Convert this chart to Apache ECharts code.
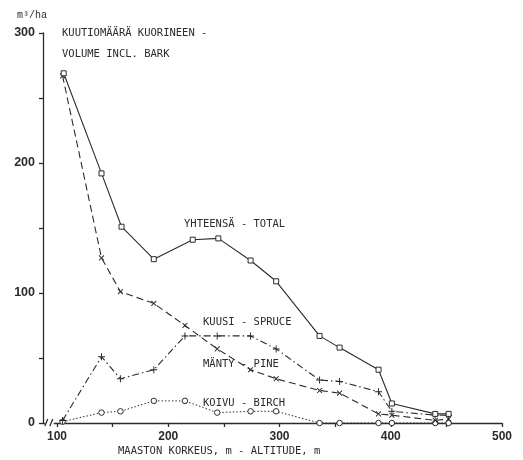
<!DOCTYPE html>
<html>
<head>
<meta charset="utf-8">
<script src="https://cdn.jsdelivr.net/npm/echarts@6/dist/echarts.min.js"></script>
<style>
  html, body { margin: 0; padding: 0; background: #fff; }
  #chart { width: 523px; height: 460px; }
</style>
</head>
<body>
<div id="chart"></div>
<script>
// Altitude (m) of each sample plot; the total curve was plotted slightly off at two plots
const altitudes      = [105, 140, 157, 187, 215, 244, 274, 297, 336, 354, 389, 401, 440, 452];
const totalAltitudes = [106, 140, 158, 187, 222, 245, 274, 297, 336, 354, 389, 401, 440, 452];

// Volume including bark, m3/ha
const totalVolume  = [269, 192, 151, 126, 141, 142, 125, 109, 67, 58, 41, 15, 7, 7];
const spruceVolume = [267, 127, 101, 92, 75, 57, 41, 34, 25, 23, 7, 6, 2, 3];
const pineVolume   = [2, 51, 34, 41, 67, 67, 67, 57, 33, 32, 24, 9, 6, 6];
const birchVolume  = [1, 8, 9, 17, 17, 8, 9, 9, 0, 0, 0, 0, 0, 0];

// Axis ticks and labels
const xTicks  = [100, 150, 200, 250, 300, 350, 400, 450, 500];
const xLabels = [100, 200, 300, 400, 500];
const yLabels = [0, 100, 200, 300];

const ink = '#2b2b2b';
const mono = 'DejaVu Sans Mono';
const plusPath = 'path://M4.3,0H5.7V4.3H10V5.7H5.7V10H4.3V5.7H0V4.3H4.3Z';

const pairs = (xs, ys) => xs.map((x, i) => [x, ys[i]]);

const chart = echarts.init(document.getElementById('chart'), null, { renderer: 'canvas' });

// Text placed by its left edge and vertical centre
const labelText = (text, x, y) => ({
  type: 'text', left: x, top: y - 5,
  style: { text, fill: ink, font: '10.5px "' + mono + '"' }
});

chart.setOption({
  animation: false,
  backgroundColor: '#fff',
  grid: { left: 43, right: 21, top: 33, bottom: 37 },
  xAxis: {
    type: 'value',
    min: 87.4,
    max: 500,
    axisLine: { lineStyle: { color: ink, width: 1.3 } },
    axisTick: { customValues: xTicks, length: 4, lineStyle: { color: ink, width: 1.3 } },
    axisLabel: {
      customValues: xLabels, margin: 8, color: ink,
      fontFamily: 'Liberation Sans', fontWeight: 'bold', fontSize: 12
    },
    splitLine: { show: false }
  },
  yAxis: {
    type: 'value',
    min: 0,
    max: 300,
    interval: 50,
    axisLine: { show: true, lineStyle: { color: ink, width: 1.3 } },
    axisTick: { show: true, length: 4, lineStyle: { color: ink, width: 1.3 } },
    axisLabel: {
      customValues: yLabels, margin: 8, color: ink,
      fontFamily: 'Liberation Sans', fontWeight: 'bold', fontSize: 12.5
    },
    splitLine: { show: false }
  },
  series: [
    {
      name: 'YHTEENSÄ - TOTAL',
      type: 'line',
      data: pairs(totalAltitudes, totalVolume),
      symbol: 'rect', symbolSize: 5,
      lineStyle: { color: ink, width: 1.1, type: 'solid' },
      itemStyle: { color: '#fff', borderColor: ink, borderWidth: 1 },
      z: 5
    },
    {
      name: 'KUUSI - SPRUCE',
      type: 'line',
      data: pairs(altitudes, spruceVolume),
      symbol: plusPath, symbolSize: 7, symbolRotate: 45,
      lineStyle: { color: ink, width: 1.1, type: [7, 4] },
      itemStyle: { color: ink },
      z: 4
    },
    {
      name: 'MÄNTY - PINE',
      type: 'line',
      data: pairs(altitudes, pineVolume),
      symbol: plusPath, symbolSize: 7,
      lineStyle: { color: ink, width: 1.1, type: [7, 3, 1.5, 3] },
      itemStyle: { color: ink },
      z: 4
    },
    {
      name: 'KOIVU - BIRCH',
      type: 'line',
      data: pairs(altitudes, birchVolume),
      symbol: 'circle', symbolSize: 5.5,
      lineStyle: { color: ink, width: 1, type: [1.5, 2] },
      itemStyle: { color: '#fff', borderColor: ink, borderWidth: 1 },
      z: 3
    }
  ]
});

// Text annotations and the axis break mark
const brk = chart.convertToPixel({ xAxisIndex: 0 }, 93.5);
const base = chart.convertToPixel({ yAxisIndex: 0 }, 0);

chart.setOption({
  graphic: [
    { type: 'text', left: 17, top: 10, style: { text: 'm\u00b3/ha', fill: ink, font: '10px "Liberation Mono"' } },
    labelText('KUUTIOMÄÄRÄ KUORINEEN -', 62, 33),
    labelText('VOLUME INCL. BARK', 62, 54),
    labelText('YHTEENSÄ - TOTAL', 184, 224),
    labelText('KUUSI - SPRUCE', 203, 322),
    labelText('MÄNTY - PINE', 203, 364),
    labelText('KOIVU - BIRCH', 203, 403),
    labelText('MAASTON KORKEUS, m - ALTITUDE, m', 118, 451),
    { type: 'rect', shape: { x: brk - 5, y: base - 2, width: 9, height: 4 }, style: { fill: '#fff' }, z: 10 },
    { type: 'line', shape: { x1: brk - 5, y1: base + 3, x2: brk - 2, y2: base - 4 }, style: { stroke: ink, lineWidth: 1.3 }, z: 11 },
    { type: 'line', shape: { x1: brk, y1: base + 3, x2: brk + 3, y2: base - 4 }, style: { stroke: ink, lineWidth: 1.3 }, z: 11 }
  ]
});
</script>
</body>
</html>
